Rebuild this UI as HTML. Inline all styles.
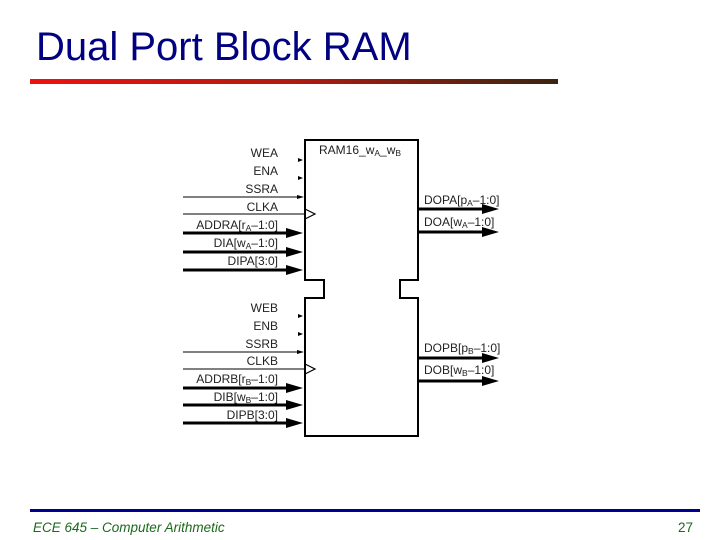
<!DOCTYPE html>
<html><head><style>
html,body{margin:0;padding:0;background:#fff;}
body{width:720px;height:540px;position:relative;overflow:hidden;font-family:"Liberation Sans",sans-serif;}
</style></head><body>
<svg width="720" height="540" viewBox="0 0 720 540" xmlns="http://www.w3.org/2000/svg" style="position:absolute;left:0;top:0">
<defs>
<linearGradient id="g" x1="0" x2="1" y1="0" y2="0">
<stop offset="0" stop-color="#ee1111"/><stop offset="0.5" stop-color="#b01a10"/><stop offset="1" stop-color="#3a2410"/>
</linearGradient>
</defs>
<text x="36" y="60" font-family="Liberation Sans, sans-serif" font-size="40" fill="#000080">Dual Port Block RAM</text>
<rect x="30" y="79" width="528" height="5" fill="url(#g)"/>
<rect x="30" y="509" width="670" height="3" fill="#000090"/>
<text x="33" y="532" font-family="Liberation Sans, sans-serif" font-size="13.5" font-style="italic" fill="#1a6a1a">ECE 645 – Computer Arithmetic</text>
<text x="693" y="532" text-anchor="end" font-family="Liberation Sans, sans-serif" font-size="13.5" fill="#1a6a1a">27</text>

<g stroke="#000" fill="none" stroke-width="2">
<path d="M305 140 H418 V280 H400 V298 H418 V436 H305 V298 H324 V280 H305 Z" fill="#fff"/>
</g>
<g font-family="Liberation Sans, sans-serif" font-size="12" fill="#222">
<text x="319" y="154">RAM16_w<tspan font-size="8.5" dy="2">A</tspan><tspan dy="-2">_w</tspan><tspan font-size="8.5" dy="2">B</tspan></text>
</g>
<g font-family="Liberation Sans, sans-serif" font-size="12" fill="#222" text-anchor="end">
<text x="278" y="157">WEA</text>
<text x="278" y="175">ENA</text>
<text x="278" y="193">SSRA</text>
<text x="278" y="211">CLKA</text>
<text x="278" y="229">ADDRA[r<tspan font-size="8.5" dy="2">A</tspan><tspan dy="-2">–1:0]</tspan></text>
<text x="278" y="247">DIA[w<tspan font-size="8.5" dy="2">A</tspan><tspan dy="-2">–1:0]</tspan></text>
<text x="278" y="265">DIPA[3:0]</text>
<text x="278" y="312">WEB</text>
<text x="278" y="330">ENB</text>
<text x="278" y="348">SSRB</text>
<text x="278" y="365">CLKB</text>
<text x="278" y="383">ADDRB[r<tspan font-size="8.5" dy="2">B</tspan><tspan dy="-2">–1:0]</tspan></text>
<text x="278" y="401">DIB[w<tspan font-size="8.5" dy="2">B</tspan><tspan dy="-2">–1:0]</tspan></text>
<text x="278" y="419">DIPB[3:0]</text>
</g>
<g font-family="Liberation Sans, sans-serif" font-size="12" fill="#222">
<text x="424" y="204">DOPA[p<tspan font-size="8.5" dy="2">A</tspan><tspan dy="-2">–1:0]</tspan></text>
<text x="424" y="226">DOA[w<tspan font-size="8.5" dy="2">A</tspan><tspan dy="-2">–1:0]</tspan></text>
<text x="424" y="352">DOPB[p<tspan font-size="8.5" dy="2">B</tspan><tspan dy="-2">–1:0]</tspan></text>
<text x="424" y="374">DOB[w<tspan font-size="8.5" dy="2">B</tspan><tspan dy="-2">–1:0]</tspan></text>
</g>
<g stroke="#000" fill="none">
<line x1="183" y1="197" x2="300" y2="197" stroke-width="1"/>
<line x1="183" y1="214" x2="305" y2="214" stroke-width="1"/>
<line x1="183" y1="233" x2="290" y2="233" stroke-width="3"/>
<line x1="183" y1="252" x2="290" y2="252" stroke-width="3"/>
<line x1="183" y1="270" x2="290" y2="270" stroke-width="3"/>
<line x1="183" y1="352" x2="300" y2="352" stroke-width="1"/>
<line x1="183" y1="369" x2="305" y2="369" stroke-width="1"/>
<line x1="183" y1="388" x2="290" y2="388" stroke-width="3"/>
<line x1="183" y1="405" x2="290" y2="405" stroke-width="3"/>
<line x1="183" y1="423" x2="290" y2="423" stroke-width="3"/>
<line x1="418" y1="209" x2="485" y2="209" stroke-width="3"/>
<line x1="418" y1="232" x2="485" y2="232" stroke-width="3"/>
<line x1="418" y1="358" x2="485" y2="358" stroke-width="3"/>
<line x1="418" y1="381" x2="485" y2="381" stroke-width="3"/>
<path d="M305 209 L315 214 L305 219" stroke-width="1.2"/>
<path d="M305 364 L315 369 L305 374" stroke-width="1.2"/>
</g>
<g fill="#000">
<path d="M298 158 L303 160 L298 162Z"/><path d="M298 176 L303 178 L298 180Z"/>
<path d="M298 314 L303 316 L298 318Z"/><path d="M298 332 L303 334 L298 336Z"/>
<path d="M297 195 L304 197 L297 199Z"/><path d="M297 350 L304 352 L297 354Z"/>
<path d="M286 228 L303 233 L286 238Z"/><path d="M286 247 L303 252 L286 257Z"/><path d="M286 265 L303 270 L286 275Z"/>
<path d="M286 383 L303 388 L286 393Z"/><path d="M286 400 L303 405 L286 410Z"/><path d="M286 418 L303 423 L286 428Z"/>
<path d="M482 204 L499 209 L482 214Z"/><path d="M482 227 L499 232 L482 237Z"/>
<path d="M482 353 L499 358 L482 363Z"/><path d="M482 376 L499 381 L482 386Z"/>
</g>
</svg>
</body></html>
